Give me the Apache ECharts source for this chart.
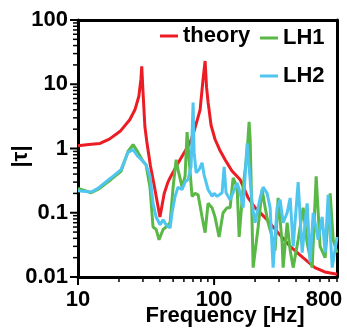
<!DOCTYPE html>
<html>
<head>
<meta charset="utf-8">
<script src="https://cdn.jsdelivr.net/npm/echarts@6/dist/echarts.min.js"></script>
<style>
  html, body { margin: 0; padding: 0; background: #fff; }
  #chart { width: 347px; height: 334px; }
</style>
</head>
<body>
<div id="chart"></div>
<script>
// 理论曲线 theory
const theoryFreq = [10, 12, 14.5, 17, 20.4, 24, 26.2, 28, 29, 29.4, 30, 31, 32, 34, 36.5, 40, 43, 45.8, 47.5, 52, 56.2, 61, 66.7, 72, 78.9, 83, 85.9, 88, 90.4, 95, 101.7, 110, 120.5, 135, 155, 178, 200, 245, 295, 362, 450, 550, 650, 800];
const theoryVal = [1.1, 1.15, 1.2, 1.4, 1.85, 2.8, 4, 6.5, 12, 19, 8, 2.2, 1.3, 0.55, 0.25, 0.086, 0.2, 0.3, 0.35, 0.5, 0.67, 0.9, 1.24, 2, 4, 12, 23, 9, 5.2, 2.3, 1.38, 0.95, 0.67, 0.45, 0.33, 0.17, 0.12, 0.078, 0.049, 0.03, 0.02, 0.014, 0.012, 0.011];

// LH1
const lh1Freq = [10, 12.5, 14, 17.5, 20.7, 23.3, 25.4, 27.6, 30.1, 31.6, 33.8, 35.6, 37.5, 39.4, 42.2, 44.4, 47.5, 50, 52.6, 54.3, 58.2, 61.2, 63.3, 65.5, 68.9, 72.5, 76.3, 81.6, 85.9, 90.3, 96.6, 101.6, 108.8, 116.4, 124.7, 131.1, 138, 147.6, 152.8, 163.4, 174.8, 180.8, 184, 193.6, 210.7, 225.4, 237.2, 249.4, 266.9, 280.8, 295.5, 316.2, 321.5, 344.2, 362.2, 381.1, 414.7, 451.1, 482.7, 525.6, 562.3, 601, 654.6, 712.8, 750.4, 800];
const lh1Val = [0.24, 0.205, 0.23, 0.33, 0.44, 0.9, 1.15, 0.87, 0.63, 0.56, 0.25, 0.06, 0.055, 0.038, 0.055, 0.06, 0.07, 0.25, 0.67, 0.47, 0.25, 0.37, 1.8, 0.67, 0.18, 0.2, 0.19, 0.086, 0.049, 0.14, 0.12, 0.086, 0.042, 0.1, 0.12, 0.12, 0.35, 0.25, 0.042, 0.25, 0.87, 2.6, 1.4, 0.014, 0.06, 0.23, 0.12, 0.07, 0.042, 0.026, 0.17, 0.034, 0.014, 0.07, 0.026, 0.014, 0.038, 0.12, 0.034, 0.014, 0.37, 0.03, 0.02, 0.2, 0.038, 0.024];

// LH2
const lh2Freq = [10, 12.5, 14, 17.5, 20.7, 23.3, 25.4, 27.6, 30.1, 31.6, 33.8, 35.6, 37.5, 40.1, 42.2, 44.4, 47.5, 49.1, 51.7, 54.3, 58.2, 61.2, 64.4, 67.7, 70.1, 71.3, 73.8, 77.6, 81.6, 84.4, 90.3, 96.6, 100, 105.2, 114.5, 118.5, 122.5, 131.1, 138, 147.6, 155.3, 163.4, 171.9, 174.8, 190.3, 200, 217.8, 229.3, 245.3, 258, 271.4, 290.3, 305.6, 321.5, 344.2, 362.2, 381.1, 414.7, 443.8, 482.7, 508, 534.6, 582, 622, 654.6, 688.6, 737.6, 800];
const lh2Val = [0.22, 0.21, 0.24, 0.35, 0.47, 0.87, 0.96, 0.75, 0.63, 0.56, 0.37, 0.14, 0.086, 0.065, 0.078, 0.065, 0.058, 0.1, 0.18, 0.25, 0.23, 0.3, 0.33, 0.52, 5.2, 0.87, 0.42, 0.47, 0.6, 0.39, 0.23, 0.18, 0.2, 0.18, 0.205, 0.52, 0.205, 0.16, 0.205, 0.29, 0.205, 0.12, 0.67, 1.2, 0.14, 0.07, 0.17, 0.25, 0.2, 0.12, 0.014, 0.12, 0.16, 0.07, 0.1, 0.17, 0.03, 0.3, 0.024, 0.14, 0.017, 0.1, 0.038, 0.086, 0.024, 0.19, 0.014, 0.042];

// 刻度
const xMajor = [10, 100];
const xMinor = [20, 30, 40, 50, 60, 70, 80, 90, 200, 300, 400, 500, 600, 700, 800];
const xLabels = [10, 100, 800];
const yMajor = [0.01, 0.1, 1, 10, 100];
const yMinor = [0.02, 0.03, 0.04, 0.05, 0.06, 0.07, 0.08, 0.09, 0.2, 0.3, 0.4, 0.5, 0.6, 0.7, 0.8, 0.9, 2, 3, 4, 5, 6, 7, 8, 9, 20, 30, 40, 50, 60, 70, 80, 90];

const X_MIN = 10, X_MAX = 800, Y_MIN = 0.01, Y_MAX = 100;

const zip = (xs, ys) => xs.map((x, i) => [x, ys[i]]);
const FONT = "'Liberation Sans', Arial, sans-serif";

const chart = echarts.init(document.getElementById('chart'));

const labelStyle = { fontFamily: FONT, fontWeight: 'bold', fontSize: 22, color: '#000' };
const legendText = { ...labelStyle, lineHeight: 22 };
const frame = { show: true, lineStyle: { color: '#000', width: 3 } };

// 刻度用 custom series 画, 位置由坐标轴换算
const tickSeries = (values, major, dir) => ({
  type: 'custom',
  silent: true,
  clip: false,
  z: 5,
  data: values.map((v) => (dir === 'x' ? [v, Y_MIN] : [X_MIN, v])),
  renderItem: (params, api) => {
    const p = api.coord([api.value(0), api.value(1)]);
    const len = major ? 8 : 5;
    const shape = dir === 'x'
      ? { x1: p[0], y1: p[1], x2: p[0], y2: p[1] + len }
      : { x1: p[0], y1: p[1], x2: p[0] - len, y2: p[1] };
    return { type: 'line', shape, style: { stroke: '#000', lineWidth: major ? 2 : 1.5 } };
  },
});

const option = {
  backgroundColor: '#fff',
  animation: false,
  grid: { left: 78, right: 10, top: 20, bottom: 57, outerBoundsMode: 'none' },
  legend: [
    {
      data: ['theory'], left: 155, top: 20,
      icon: 'rect', itemWidth: 18, itemHeight: 3,
      textStyle: legendText,
    },
    {
      data: ['LH1', 'LH2'], orient: 'vertical', left: 255, top: 22, itemGap: 16,
      icon: 'rect', itemWidth: 18, itemHeight: 3,
      textStyle: legendText,
    },
  ],
  xAxis: [
    {
      type: 'log', min: X_MIN, max: X_MAX, position: 'bottom',
      splitLine: { show: false },
      axisTick: { show: false },
      name: 'Frequency [Hz]',
      nameLocation: 'middle',
      nameGap: 28,
      nameMoveOverlap: false,
      nameTextStyle: { ...labelStyle, padding: [0, 0, 0, 35] },
      axisLine: frame,
      axisLabel: {
        show: true,
        customValues: xLabels,
        margin: 12,
        ...labelStyle,
        formatter: (v) => (v >= 799 ? '{r|800}' : String(Math.round(v))),
        rich: { r: { ...labelStyle, padding: [0, 26, 0, 0] } },
      },
    },
    {
      type: 'log', min: X_MIN, max: X_MAX, position: 'top',
      splitLine: { show: false }, axisTick: { show: false }, axisLabel: { show: false },
      axisLine: frame,
    },
  ],
  yAxis: [
    {
      type: 'log', min: Y_MIN, max: Y_MAX, position: 'left',
      splitLine: { show: false },
      axisTick: { show: false },
      name: '|τ|',
      nameLocation: 'middle',
      nameRotate: 90,
      nameGap: 46,
      nameMoveOverlap: false,
      nameTextStyle: { ...labelStyle, padding: [0, 16, 0, 0] },
      axisLine: frame,
      axisLabel: { show: true, customValues: yMajor, margin: 10, ...labelStyle, formatter: (v) => String(v) },
    },
    {
      type: 'log', min: Y_MIN, max: Y_MAX, position: 'right',
      splitLine: { show: false }, axisTick: { show: false }, axisLabel: { show: false },
      axisLine: frame,
    },
  ],
  series: [
    {
      name: 'theory', type: 'line', data: zip(theoryFreq, theoryVal),
      symbol: 'none', color: '#ec1c24', lineStyle: { width: 3, color: '#ec1c24' },
    },
    {
      name: 'LH1', type: 'line', data: zip(lh1Freq, lh1Val),
      symbol: 'none', color: '#5ab946', lineStyle: { width: 3, color: '#5ab946' },
    },
    {
      name: 'LH2', type: 'line', data: zip(lh2Freq, lh2Val),
      symbol: 'none', color: '#4fc5ef', lineStyle: { width: 3, color: '#4fc5ef' },
    },
    tickSeries(xMajor, true, 'x'),
    tickSeries(xMinor, false, 'x'),
    tickSeries(yMajor, true, 'y'),
    tickSeries(yMinor, false, 'y'),
  ],
};

chart.setOption(option);
</script>
</body>
</html>
